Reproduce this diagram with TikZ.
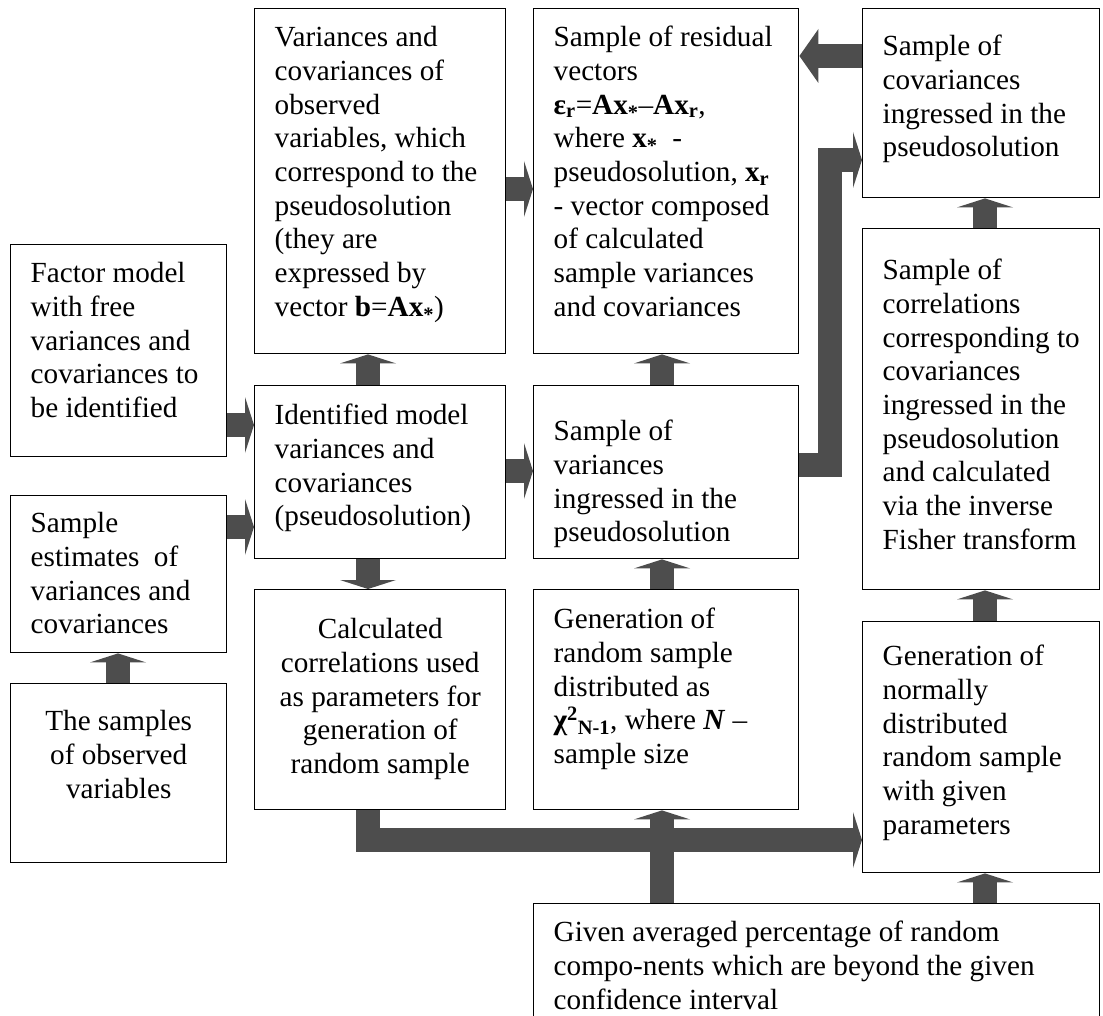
\documentclass[tikz,border=0pt]{standalone}
\usepackage{fontspec}
\setmainfont{Liberation Serif}
\usetikzlibrary{arrows.meta}
\definecolor{arrowgray}{RGB}{77,77,77}
% box text: width, height, first-baseline offset, alignment, text
\newcommand\boxtxt[5]{\parbox[t][#2][t]{#1}{#4\rule{0pt}{#3}#5}}
\newcommand\lft{\raggedright\leftskip=20pt\relax}
\newcommand\ctr{\centering}
\newcommand\str{\textsubscript{\textbf{*}}}

\begin{document}
\begin{tikzpicture}[x=1pt,y=-1pt,
  font=\fontsize{29.2}{33.7}\selectfont,
  blk/.style={draw=black, line width=1.4pt, inner sep=0pt, anchor=north west},
  fat/.style={draw=arrowgray, line width=24pt,
    -{Triangle[width=56pt,length=9pt,line width=0pt]}},
  fatlong/.style={draw=arrowgray, line width=24pt,
    -{Triangle[width=54pt,length=19pt,line width=0pt]}},
]
\useasboundingbox (0,0) rectangle (1103,1016);

% first column
\node[blk] (factor) at (10,244) {\boxtxt{216pt}{212pt}{38pt}{\lft}{Factor model\\ with free\\ variances and\\ covariances to\\ be identified}};
\node[blk] (sest) at (10,495) {\boxtxt{216pt}{157pt}{37pt}{\lft}{Sample\\ estimates\ \ of\\ variances and\\ covariances}};
\node[blk] (samples) at (10,683) {\boxtxt{216pt}{179pt}{47pt}{\ctr}{The samples\\ of observed\\ variables}};

% second column
\node[blk] (var) at (254,8) {\boxtxt{251pt}{345pt}{38pt}{\lft}{Variances and\\ covariances of\\ observed\\ variables, which\\ correspond to the\\ pseudosolution\\ (they are\\ expressed by\\ vector \textbf{b}=\textbf{Ax}\str)}};
\node[blk] (ident) at (254,385) {\boxtxt{251pt}{173pt}{39pt}{\lft}{Identified model\\ variances and\\ covariances\\ (pseudosolution)}};
\node[blk] (calc) at (254,589) {\boxtxt{251pt}{220pt}{49pt}{\ctr}{Calculated\\ correlations used\\ as parameters for\\ generation of\\ random sample}};

% third column
\node[blk] (res) at (533,8) {\boxtxt{265pt}{345pt}{38pt}{\lft}{Sample of residual\\ vectors\\ \textbf{ε\textsubscript{r}}=\textbf{Ax}\str–\textbf{Ax\textsubscript{r}},\\ where \textbf{x}\str\enspace-\\ pseudosolution, \textbf{x\textsubscript{r}}\\ - vector composed\\ of calculated\\ sample variances\\ and covariances}};
\node[blk] (vari) at (533,385) {\boxtxt{265pt}{173pt}{55pt}{\lft}{Sample of\\ variances\\ ingressed in the\\ pseudosolution}};
\node[blk] (chi) at (533,589) {\boxtxt{265pt}{220pt}{39pt}{\lft}{Generation of\\ random sample\\ distributed as\\ \textbf{χ\textsuperscript{2}\textsubscript{N-1}}, where \textbf{\textit{N}} –\\ sample size}};

% fourth column
\node[blk] (cov) at (862,8) {\boxtxt{237pt}{189pt}{47pt}{\lft}{Sample of\\ covariances\\ ingressed in the\\ pseudosolution}};
\node[blk] (corr) at (862,228) {\boxtxt{237pt}{361pt}{51pt}{\lft}{Sample of\\ correlations\\ corresponding to\\ covariances\\ ingressed in the\\ pseudosolution\\ and calculated\\ via the inverse\\ Fisher transform}};
\node[blk] (gnorm) at (862,621) {\boxtxt{237pt}{251pt}{44pt}{\lft}{Generation of\\ normally\\ distributed\\ random sample\\ with given\\ parameters}};

% bottom box, running off the lower edge
\node[blk] (given) at (533,903) {\boxtxt{566pt}{150pt}{38pt}{\lft}{Given averaged percentage of random\\ compo-nents which are beyond the given\\ confidence interval}};

% connector tracks
\coordinate (ca) at (368,0);
\coordinate (cb) at (662,0);
\coordinate (cc) at (985,0);
\coordinate (cl) at (118,0);
\coordinate (yf) at (0,425);
\coordinate (ys) at (0,527);
\coordinate (yv) at (0,189);
\coordinate (yi) at (0,471);
\coordinate (yc) at (0,56);
\coordinate (lx) at (830,0);
\coordinate (ly1) at (0,465);
\coordinate (ly2) at (0,160);
\coordinate (by) at (0,840);

\draw[fat] (ident.north -| ca) -- (var.south -| ca);
\draw[fat] (ident.south -| ca) -- (calc.north -| ca);
\draw[fat] (factor.east |- yf) -- (ident.west |- yf);
\draw[fat] (sest.east |- ys) -- (ident.west |- ys);
\draw[fat] (samples.north -| cl) -- (sest.south -| cl);
\draw[fat] (var.east |- yv) -- (res.west |- yv);
\draw[fat] (ident.east |- yi) -- (vari.west |- yi);
\draw[fat] (vari.north -| cb) -- (res.south -| cb);
\draw[fat] (chi.north -| cb) -- (vari.south -| cb);
\draw[fatlong] (cov.west |- yc) -- (res.east |- yc);
\draw[fat] (corr.north -| cc) -- (cov.south -| cc);
\draw[fat] (gnorm.north -| cc) -- (corr.south -| cc);
\draw[fat] (given.north -| cc) -- (gnorm.south -| cc);
\draw[fat] (given.north -| cb) -- (chi.south -| cb);
\draw[fat] (vari.east |- ly1) -- (lx |- ly1) -- (lx |- ly2) -- (cov.west |- ly2);
\draw[fat] (calc.south -| ca) -- (ca |- by) -- (gnorm.west |- by);
\end{tikzpicture}
\end{document}
